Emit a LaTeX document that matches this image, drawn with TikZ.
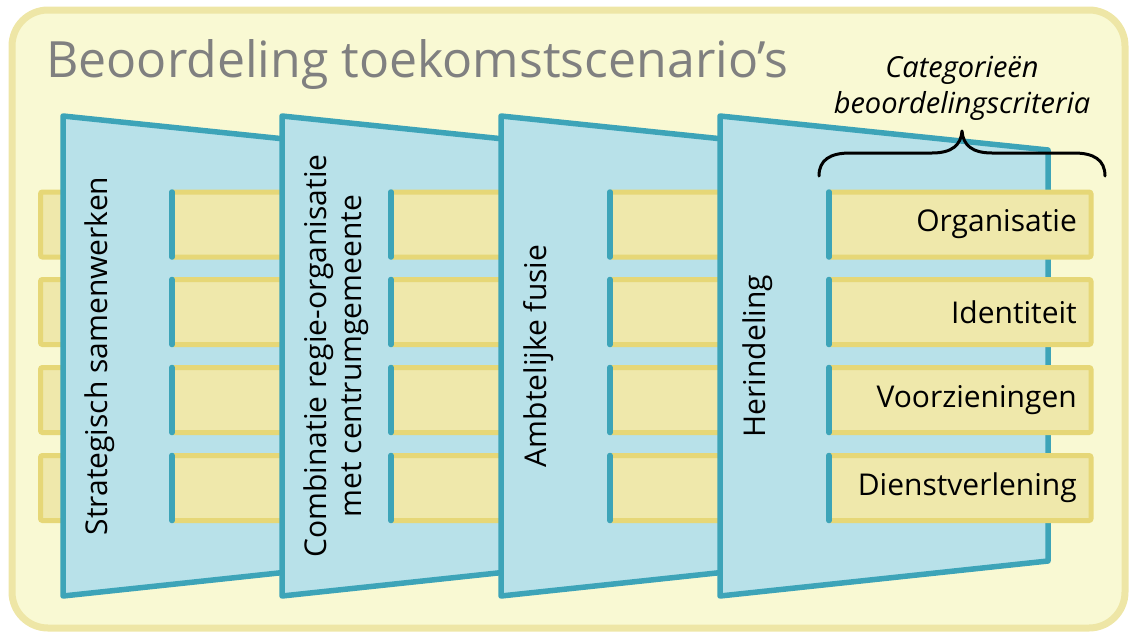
\documentclass[tikz,border=0pt]{standalone}
\usepackage{fontspec}
\setmainfont{Open Sans}
\definecolor{bgfill}{HTML}{F9F9D3}
\definecolor{bgline}{HTML}{EEE6A6}
\definecolor{tealc}{HTML}{3DA4B8}
\definecolor{lblue}{HTML}{B8E1E9}
\definecolor{yfill}{HTML}{EFE8AB}
\definecolor{yline}{HTML}{E6D777}
\definecolor{titlegray}{HTML}{808080}
\newcommand\mybars[2]{%
  \foreach \yc in {224.5,312,400,488}{
    \draw[barbox] (#1,\yc-32.5) rectangle (#2,\yc+32.5);
    \draw[tealline] (#1,\yc-32.5) -- (#1,\yc+32.5);
  }}
\begin{document}
\begin{tikzpicture}[x=1pt,y=-1pt,
  bg/.style={draw=bgline,fill=bgfill,line width=7,rounded corners=36},
  trap/.style={draw=tealc,fill=lblue,line width=5.5,line join=round},
  barbox/.style={draw=yline,fill=yfill,line width=5,rounded corners=2},
  tealline/.style={draw=tealc,line width=5.5,line cap=round},
  scen/.style={rotate=90,anchor=north,inner sep=0,align=center,
    font=\fontsize{30}{35}\selectfont},
  crit/.style={anchor=east,inner sep=0,font=\fontsize{30}{34}\selectfont},
  brace/.style={draw=black,line width=3,line cap=round,line join=round}]
\useasboundingbox (0,0) rectangle (1129,632);
\draw[bg] (12,10) rectangle (1125,628);
% group 0 bars
\foreach \yc in {224.5,312,400,488}{
  \draw[barbox] (40.5,\yc-32.5) rectangle (150,\yc+32.5);
}
% trapezoid 1
\draw[trap] (63,116) -- (391,150) -- (391,561) -- (63,596) -- cycle;
\node[scen] (s1) at (85,356) {Strategisch samenwerken};
\mybars{172}{434}
% trapezoid 2
\draw[trap] (282,116) -- (610,150) -- (610,561) -- (282,596) -- cycle;
\node[scen] (s2) at (304,356) {Combinatie regie-organisatie\\met centrumgemeente};
\mybars{391}{653}
% trapezoid 3
\draw[trap] (501,116) -- (829,150) -- (829,561) -- (501,596) -- cycle;
\node[scen] (s3) at (523,356) {Ambtelijke fusie};
\mybars{610}{872}
% trapezoid 4
\draw[trap] (720,116) -- (1048,150) -- (1048,561) -- (720,596) -- cycle;
\node[scen] (s4) at (742,356) {Herindeling};
\mybars{829}{1091}
\node[crit] (c1) at (1077,224.5) {Organisatie};
\node[crit] (c2) at (1077,312) {Identiteit};
\node[crit] (c3) at (1077,400) {Voorzieningen};
\node[crit] (c4) at (1077,488) {Dienstverlening};
% brace
\draw[brace] (819,176) .. controls (819,160) and (830,153) .. (850,153)
  -- (932,153) .. controls (952,153) and (961,145) .. (962,131)
  .. controls (963,145) and (972,153) .. (992,153)
  -- (1074,153) .. controls (1094,153) and (1105,160) .. (1105,176);
\node[anchor=base,inner sep=0,align=center,font=\fontsize{29}{36}\selectfont\itshape] (cat) at (962,113) {Categorieën\\beoordelingscriteria};
% title
\node[anchor=base west,inner sep=0,text=titlegray,font=\fontsize{50}{58}\selectfont] (title) at (46,77) {Beoordeling toekomstscenario’s};
\end{tikzpicture}
\end{document}
